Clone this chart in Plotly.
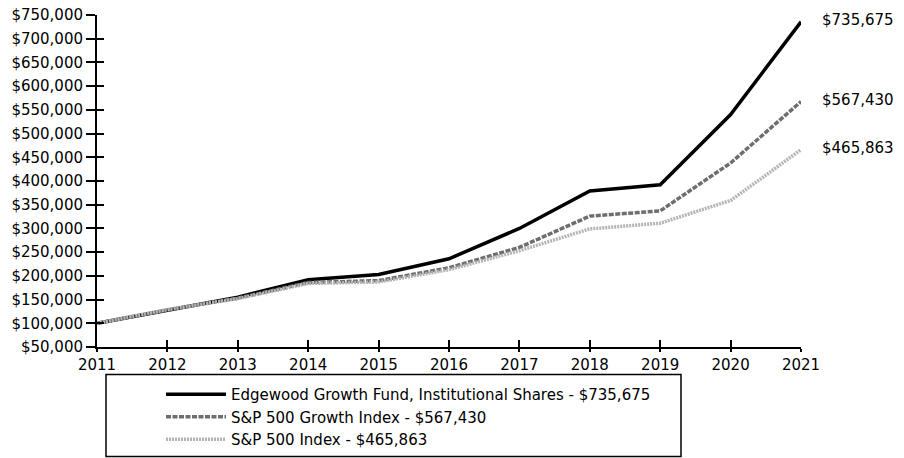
import plotly.graph_objects as go

years = [2011, 2012, 2013, 2014, 2015, 2016, 2017, 2018, 2019, 2020, 2021]
edgewood = [100000, 127000, 155000, 192000, 203000, 236000, 300000, 379000, 392000, 540000, 735675]
growth = [100000, 128000, 153000, 186000, 190000, 217000, 260000, 326000, 337000, 438000, 567430]
sp500 = [100000, 129000, 152000, 184000, 187000, 213000, 253000, 299000, 311000, 359000, 465863]

names = ["Edgewood Growth Fund, Institutional Shares - $735,675",
         "S&P 500 Growth Index - $567,430",
         "S&P 500 Index - $465,863"]
end_labels = ["$735,675", "$567,430", "$465,863"]
y_ticks = list(range(50000, 750001, 50000))
y_tick_text = ["${:,}".format(v) for v in y_ticks]

W, H = 904, 458
ml, mr, mt, mb = 97, 103, 15, 111

fig = go.Figure()
series = [edgewood, growth, sp500]
styles = [dict(color="#000000", width=3.5, dash="solid"),
          dict(color="#6e6e6e", width=3.5, dash="5px,1.5px"),
          dict(color="#b4b4b4", width=3.5, dash="2px,1px")]
for s, n, st in zip(series, names, styles):
    fig.add_trace(go.Scatter(x=years, y=s, name=n, mode="lines", line=st, xaxis="x", yaxis="y"))

for s, lab in zip(series, end_labels):
    fig.add_annotation(x=years[-1], y=s[-1], text=lab, showarrow=False,
                       xanchor="left", xshift=19, yshift=2,
                       font=dict(family="DejaVu Sans", size=15, color="#000"))

pw = W - ml - mr
ph = H - mt - mb
def px2x(px):
    return (px - ml) / pw
def py2y(py):
    return (H - mb - py) / ph

fig.add_shape(type="rect", xref="paper", yref="paper",
              x0=px2x(106), x1=px2x(681), y0=py2y(456.5), y1=py2y(374.5),
              line=dict(color="#000", width=1.5), fillcolor="rgba(0,0,0,0)")

tickfont = dict(family="DejaVu Sans", size=15, color="#000")
fig.update_layout(
    width=W, height=H,
    margin=dict(l=ml, r=mr, t=mt, b=mb, autoexpand=False),
    paper_bgcolor="white", plot_bgcolor="white",
    showlegend=True,
    legend=dict(x=px2x(161), y=py2y(378), xanchor="left", yanchor="top",
                bgcolor="rgba(0,0,0,0)", borderwidth=0,
                font=dict(family="DejaVu Sans", size=15, color="#000"),
                tracegroupgap=0, itemwidth=60),
    xaxis=dict(range=[2011, 2021], tickvals=years, ticktext=[str(y) for y in years],
               showgrid=False, zeroline=False, showline=True, linecolor="#000", linewidth=2,
               ticks="outside", ticklen=3, tickwidth=2, tickcolor="#000",
               tickfont=tickfont, fixedrange=True, automargin=False),
    yaxis=dict(range=[50000, 750000], tickvals=y_ticks, ticktext=y_tick_text,
               showgrid=False, zeroline=False, showline=True, linecolor="#000", linewidth=2,
               ticks="outside", ticklen=9, tickwidth=2, tickcolor="#000",
               tickfont=tickfont, fixedrange=True, automargin=False),
    xaxis2=dict(range=[2011, 2021], tickvals=years, overlaying="x", anchor="y",
                showticklabels=False, showgrid=False, zeroline=False, showline=False,
                ticks="inside", ticklen=7, tickwidth=2, tickcolor="#000", automargin=False),
    yaxis2=dict(range=[50000, 750000], tickvals=y_ticks, overlaying="y", anchor="x",
                showticklabels=False, showgrid=False, zeroline=False, showline=False,
                ticks="inside", ticklen=7, tickwidth=2, tickcolor="#000", automargin=False),
)
fig.add_trace(go.Scatter(x=[years[0]], y=[y_ticks[0]], xaxis="x2", yaxis="y2", mode="markers",
                         marker=dict(opacity=0), showlegend=False, hoverinfo="skip"))

fig.write_html("out.html", config={"displayModeBar": False},
               post_script="document.body.style.margin='0';document.body.style.overflow='hidden';")
